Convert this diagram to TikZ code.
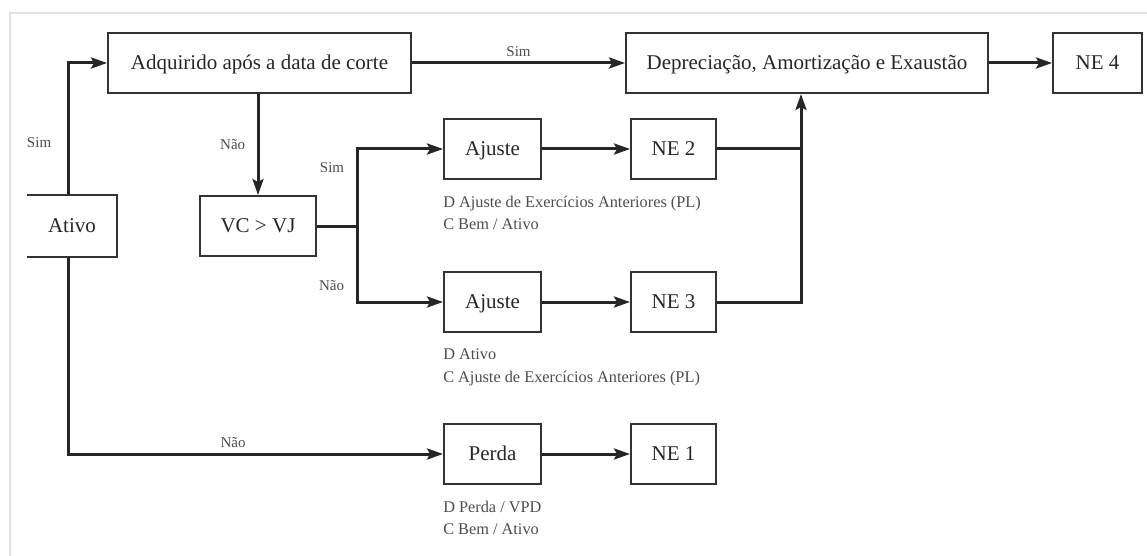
\documentclass[tikz,border=0pt]{standalone}
\usepackage{fontspec}
\setmainfont{Liberation Serif}
\usetikzlibrary{arrows.meta,positioning}

\tikzset{
  caixa/.style={draw=black!80, line width=1.9pt, minimum height=60pt, inner sep=0pt,
    text height=13.6pt, text depth=0pt, text=black!85, font=\fontsize{21}{25}\selectfont},
  linha/.style={line width=3pt, black!85},
  rotulo/.style={font=\fontsize{15}{17}\selectfont, text=black!70},
  lanc/.style={font=\fontsize{16.3}{22.5}\selectfont, text=black!70, align=left, inner sep=0pt},
}

\begin{document}
\begin{tikzpicture}[x=1pt,y=-1pt,>={Stealth[length=16pt,width=11pt,inset=3pt]}]
  \useasboundingbox (0,0) rectangle (1147,556);
  % moldura
  \draw[black!12, line width=2.5pt] (10,556) -- (10,13) -- (1147,13);

  \node[caixa, minimum width=303pt] (adq) at (259.5,63) {Adquirido após a data de corte};
  \node[caixa, minimum width=362pt] (dep) at (807,63) {Depreciação, Amortização e Exaustão};
  \node[caixa, minimum width=89pt] (ne4) at (1097.5,63) {NE 4};
  \node[caixa, draw=none, minimum width=88pt] (ativo) at (72,226) {Ativo};
  \draw[black!80, line width=1.9pt] (ativo.north west) -- (ativo.north east)
    -- (ativo.south east) -- (ativo.south west);
  \node[caixa, minimum width=116pt] (vc) at (258,226) {VC > VJ};
  \node[caixa, minimum width=97pt] (aj1) at (492.5,149) {Ajuste};
  \node[caixa, minimum width=85pt] (ne2) at (673.5,149) {NE 2};
  \node[caixa, minimum width=97pt] (aj2) at (492.5,302) {Ajuste};
  \node[caixa, minimum width=85pt] (ne3) at (673.5,302) {NE 3};
  \node[caixa, minimum width=97pt] (perda) at (492.5,454) {Perda};
  \node[caixa, minimum width=85pt] (ne1) at (673.5,454) {NE 1};

  \node[lanc, below right=16pt and 0pt of aj1.south west] (l1)
    {D Ajuste de Exercícios Anteriores (PL)\\C Bem / Ativo};
  \node[lanc, below right=16pt and 0pt of aj2.south west] (l2)
    {D Ativo\\C Ajuste de Exercícios Anteriores (PL)};
  \node[lanc, below right=16pt and 0pt of perda.south west] (l3)
    {D Perda / VPD\\C Bem / Ativo};

  \draw[linha,->] ([xshift=-4pt]ativo.north) |- (adq.west)
    node[rotulo, pos=0.2, left=12pt] {Sim};
  \draw[linha,->] ([xshift=-4pt]ativo.south) |- (perda.west)
    node[rotulo, pos=0.72, above=2pt] {Não};
  \draw[linha,->] (vc.north |- adq.south) -- (vc.north)
    node[rotulo, pos=0.5, left=8pt] {Não};
  \draw[linha,->] (adq.east) -- (dep.west)
    node[rotulo, midway, above=2pt] {Sim};
  \draw[linha] (vc.east) -- ++(41,0) coordinate (desvio);
  \draw[linha,->] (desvio) |- (aj1.west) node[rotulo, pos=0.38, left=9pt] {Sim};
  \draw[linha,->] (desvio) |- (aj2.west) node[rotulo, pos=0.39, left=9pt] {Não};

  \foreach \x/\y in {aj1/ne2, aj2/ne3, perda/ne1, dep/ne4}{%
    \draw[linha,->] (\x.east) -- (\y.west);
  }%

  \coordinate (juncao) at (801,302);
  \draw[linha] (ne2.east) -- (ne2.east -| juncao);
  \draw[linha,->] (ne3.east) -| (juncao |- dep.south);
\end{tikzpicture}
\end{document}
